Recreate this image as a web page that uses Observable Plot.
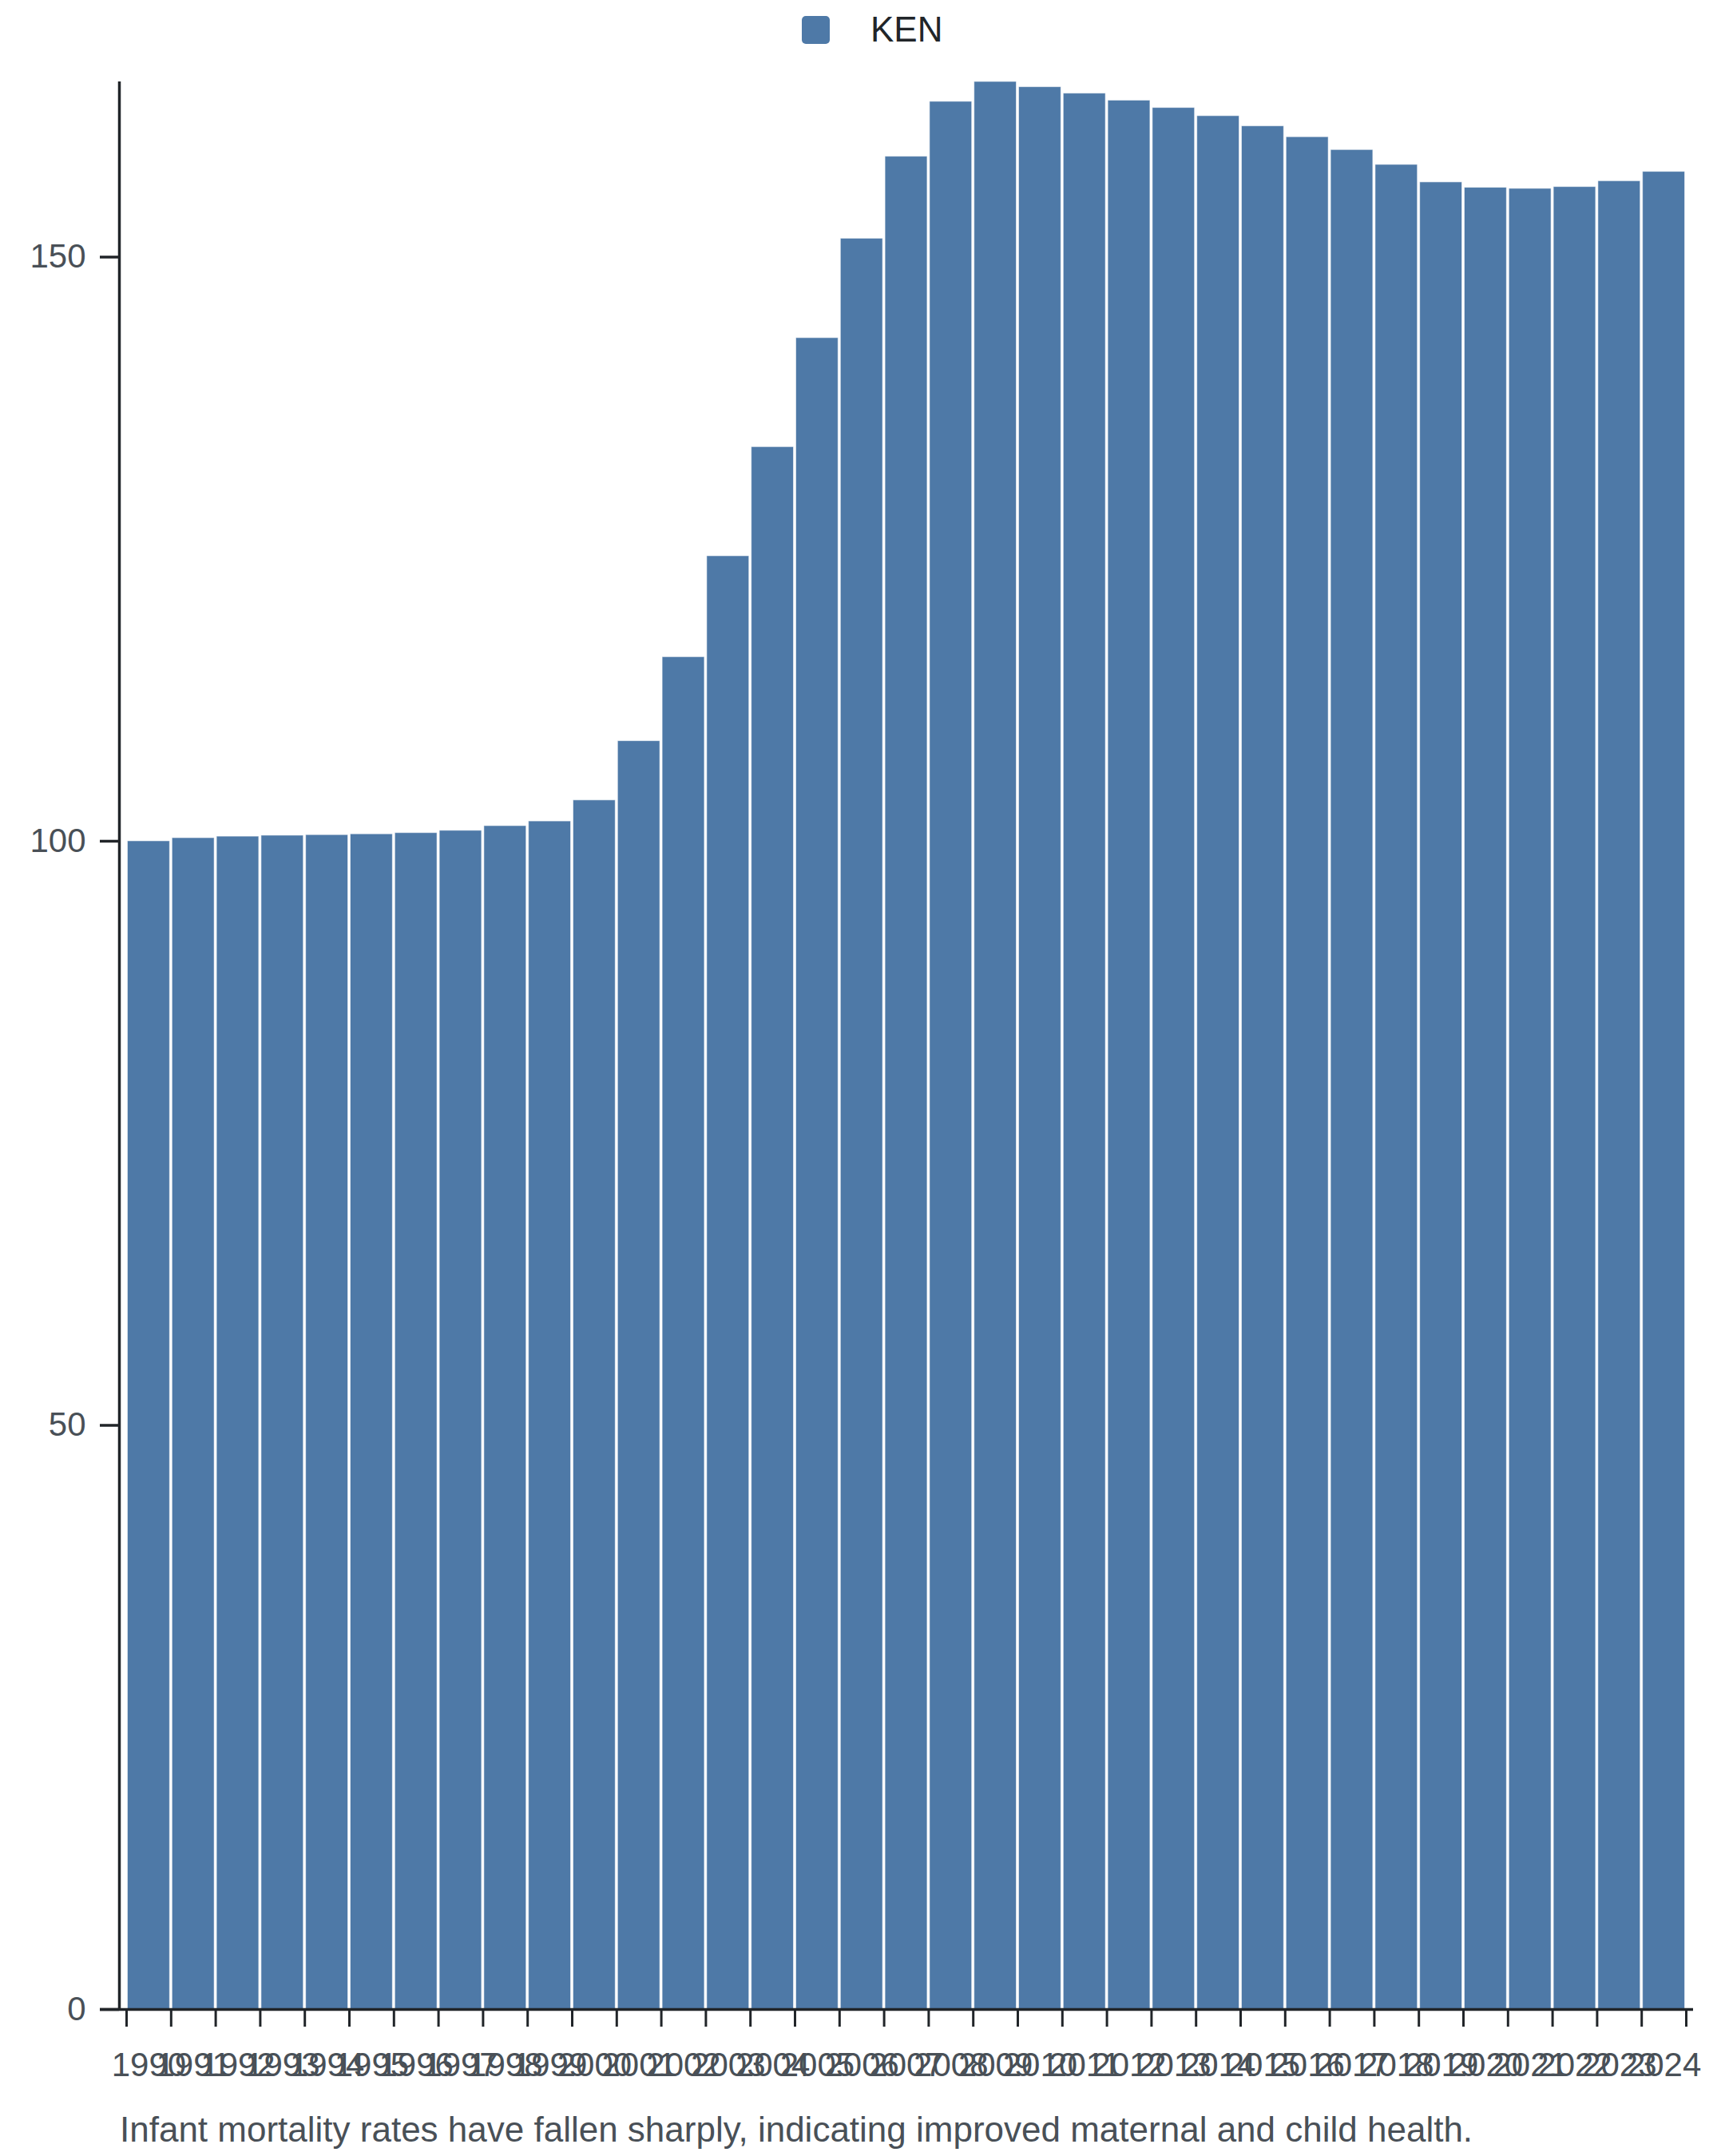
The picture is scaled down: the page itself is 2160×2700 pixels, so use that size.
<!DOCTYPE html>
<html>
<head>
<meta charset="utf-8">
<script src="https://cdn.jsdelivr.net/npm/d3@7"></script>
<script src="https://cdn.jsdelivr.net/npm/@observablehq/plot@0.6"></script>
<style>
  html, body { margin: 0; padding: 0; background: #fff; }
  body { width: 2160px; font-family: "Liberation Sans", Arial, sans-serif; }
  #legend { position: relative; height: 80px; }
  #legend .sw { position: absolute; left: 1004px; top: 20px; width: 35px; height: 35px; border-radius: 5px; background: #4e79a7; }
  #legend .lb { position: absolute; left: 1090px; top: 10px; font-size: 44px; line-height: 54px; color: #212529; }
  #chart svg { display: block; }
  #caption { margin: 25px 0 0 150px; font-size: 44px; line-height: 52px; color: #495057; }
</style>
</head>
<body>
<div id="legend"><div class="sw"></div><div class="lb"></div></div>
<div id="chart"></div>
<div id="caption"></div>
<script>
const seriesName = "KEN";
const captionText = "Infant mortality rates have fallen sharply, indicating improved maternal and child health.";
const years = [1990,1991,1992,1993,1994,1995,1996,1997,1998,1999,2000,2001,2002,2003,2004,2005,2006,2007,2008,2009,2010,2011,2012,2013,2014,2015,2016,2017,2018,2019,2020,2021,2022,2023,2024];
const values = [100.0,100.27,100.4,100.48,100.53,100.6,100.7,100.9,101.3,101.7,103.5,108.57,115.76,124.4,133.74,143.07,151.58,158.6,163.3,165.0,164.55,164.0,163.4,162.77,162.07,161.2,160.27,159.17,157.9,156.4,155.94,155.85,156.0,156.5,157.3];
const yTicks = [0, 50, 100, 150];

document.querySelector("#legend .lb").textContent = seriesName;
document.getElementById("caption").textContent = captionText;

const data = years.map((y, i) => ({year: y, value: values[i]}));
const edges = years.concat([years[years.length - 1] + 1]);
const centers = years.map(y => y + 0.5);
const yMax = d3.max(values);

const ink = "#212529";
const grey = "#495057";

const chart = Plot.plot({
  width: 2160,
  height: 2536,
  marginTop: 22,
  marginBottom: 100,
  marginLeft: 158,
  marginRight: 49,
  style: {fontFamily: "'Liberation Sans', Arial, sans-serif", fontSize: "42px", color: grey, background: "#fff", overflow: "visible"},
  x: {domain: [years[0], years[years.length - 1] + 1], axis: null, label: null},
  y: {domain: [0, yMax], axis: null, label: null},
  marks: [
    Plot.rectY(data, {x1: "year", x2: d => d.year + 1, y: "value", fill: "#4e79a7", stroke: "#fff", strokeOpacity: 0.55, strokeWidth: 1, insetLeft: 1.5, insetRight: 1.5}),
    // y axis
    Plot.ruleX([years[0]], {dx: -9, stroke: ink, strokeWidth: 3.5}),
    Plot.axisY({ticks: yTicks, tickSize: 24, dx: -9, label: null, tickFormat: () => "", stroke: ink, strokeWidth: 3.5}),
    Plot.axisY({ticks: yTicks, tickSize: 0, tickPadding: 42, dx: -9, label: null, tickFormat: d => String(d), fill: grey, fontSize: 42}),
    // x axis
    Plot.ruleY([0], {insetLeft: -33, insetRight: -9, stroke: ink, strokeWidth: 3.5}),
    Plot.axisX({ticks: edges, tickSize: 22, label: null, tickFormat: () => "", stroke: ink, strokeWidth: 3}),
    Plot.axisX({ticks: centers, tickSize: 0, tickPadding: 54, label: null, tickFormat: d => String(Math.round(d - 0.5)), fill: grey, fontSize: 42})
  ]
});
document.getElementById("chart").appendChild(chart);
</script>
</body>
</html>
